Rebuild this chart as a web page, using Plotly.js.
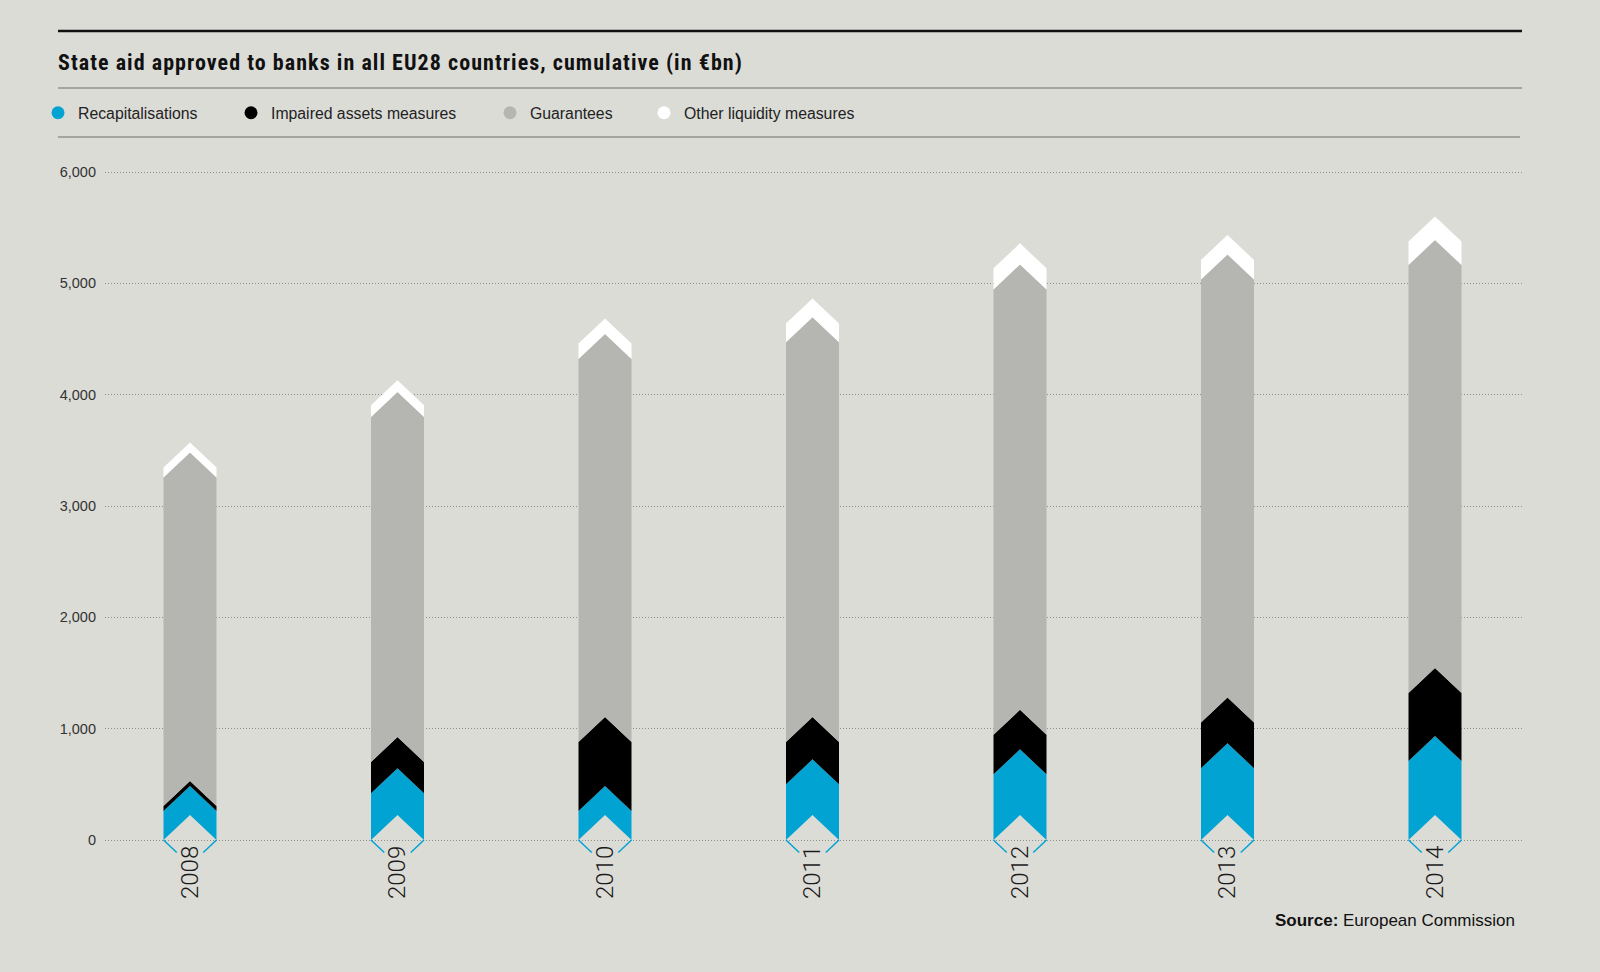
<!DOCTYPE html>
<html>
<head>
<meta charset="utf-8">
<script src="https://cdn.plot.ly/plotly-3.0.1.min.js"></script>
<style>
  html, body { margin: 0; padding: 0; background: #dcdcd7; }
  #chart { width: 1600px; height: 972px; }
  #chart .gtitle { letter-spacing: 1.05px; }
</style>
</head>
<body>
<div id="chart"></div>
<script>
// ---------- DATA (in €bn) ----------
const years = ['2008', '2009', '2010', '2011', '2012', '2013', '2014'];
const recapitalisations = [260, 420, 260, 500, 590, 645, 710];
const impairedAssets    = [45, 280, 620, 380, 355, 410, 610];
const guarantees        = [2950, 3100, 3440, 3590, 4000, 3980, 3845];
const otherLiquidity    = [90, 105, 140, 170, 190, 175, 210];
const seriesNames = ['Recapitalisations', 'Impaired assets measures', 'Guarantees', 'Other liquidity measures'];
const yTickValues = [0, 1000, 2000, 3000, 4000, 5000, 6000];

// ---------- STYLE / GEOMETRY ----------
const W = 1600, H = 972;
const L = 105, R = 1522, T = 160, B = 870;          // plot area in pixels
const Y0PX = 840, Y6000PX = 172;                     // pixel of value 0 and 6000
const K = (Y0PX - Y6000PX) / 6000;                   // px per unit
const FIRST_PX = 190, STEP_PX = 207.5;               // bar centre spacing
const HW = 26.5 / STEP_PX;                           // half bar width (x units)
const RISE = 25 / K;                                 // chevron rise (y units)
const colors = ['#00a3d2', '#000000', '#b5b6b1', '#ffffff'];
const BG = '#dcdcd7';
const SANS = "'Liberation Sans', Arial, sans-serif";
const NARROW = "'Liberation Sans Narrow', 'Arial Narrow', 'Roboto Condensed', 'DejaVu Sans Condensed', sans-serif";

const px2paperX = X => (X - L) / (R - L);
const px2paperY = Y => (B - Y) / (B - T);

const yRange = [-(B - Y0PX) / K, (Y0PX - T) / K];
const xRange = [-(FIRST_PX - L) / STEP_PX, (years.length - 1) + (R - (FIRST_PX + (years.length - 1) * STEP_PX)) / STEP_PX];

// ---------- TRACES ----------
const stacks = [recapitalisations, impairedAssets, guarantees, otherLiquidity];
const traces = [];

stacks.forEach((vals, s) => {
  const xs = [], ys = [];
  years.forEach((yr, i) => {
    let base = 0;
    for (let k = 0; k < s; k++) base += stacks[k][i];
    const top = base + vals[i];
    xs.push(i - HW, i, i + HW, i + HW, i, i - HW, i - HW, null);
    ys.push(base, base + RISE, base, top, top + RISE, top, base, null);
  });
  traces.push({
    type: 'scatter', x: xs, y: ys, mode: 'lines', fill: 'toself',
    fillcolor: colors[s], line: { width: 0, color: colors[s] },
    hoverinfo: 'skip', showlegend: false, name: seriesNames[s]
  });
});

// thin blue chevron outline below the baseline
const vx = [], vy = [];
years.forEach((yr, i) => {
  vx.push(i - HW, i - HW * 0.5, null, i + HW, i + HW * 0.5, null);
  vy.push(0, -RISE * 0.5, null, 0, -RISE * 0.5, null);
});
traces.push({
  type: 'scatter', x: vx, y: vy, mode: 'lines',
  line: { width: 1.5, color: colors[0] }, hoverinfo: 'skip', showlegend: false
});

// legend entries (one legend each so they can be placed like the reference)
const legendTextStart = [78, 271, 530, 684];
const legendIds = ['legend', 'legend2', 'legend3', 'legend4'];
seriesNames.forEach((n, s) => {
  traces.push({
    type: 'scatter', x: [null], y: [null], mode: 'markers', name: n,
    marker: { size: 13, color: colors[s], line: { width: 0 } },
    legend: legendIds[s], showlegend: true, hoverinfo: 'skip'
  });
});

const legendStyle = X => ({
  orientation: 'h', x: px2paperX(X - 40), xanchor: 'left',
  y: px2paperY(113), yanchor: 'middle', bgcolor: 'rgba(0,0,0,0)',
  font: { family: SANS, size: 15.8, color: '#222' }, itemclick: false, itemdoubleclick: false
});

// ---------- LAYOUT ----------
const lineShape = (y, x1, color, width) => ({
  type: 'line', xref: 'paper', yref: 'paper',
  x0: px2paperX(58), x1: px2paperX(x1), y0: px2paperY(y), y1: px2paperY(y),
  line: { color: color, width: width }
});

const layout = {
  width: W, height: H,
  paper_bgcolor: BG, plot_bgcolor: BG,
  margin: { l: L, r: W - R, t: T, b: H - B, pad: 0 },
  hovermode: false,
  title: {
    text: '<b>State aid approved to banks in all EU28 countries, cumulative (in €bn)</b>',
    font: { family: NARROW, size: 22, color: '#111' },
    xref: 'container', yref: 'container',
    x: 58 / W, xanchor: 'left', y: 1 - 62 / H, yanchor: 'middle'
  },
  xaxis: {
    range: xRange, tickvals: years.map((y, i) => i), ticktext: years,
    tickangle: -90, showgrid: false, zeroline: false, showline: false, ticks: '',
    anchor: 'free', position: px2paperY(Y0PX), ticklabelstandoff: 0,
    tickfont: { family: "Roboto, 'Liberation Sans', sans-serif", weight: 300, size: 24, color: '#1a1a1a' },
    fixedrange: true
  },
  yaxis: {
    range: yRange, tickvals: yTickValues, tickformat: ',',
    showgrid: true, gridcolor: '#8e8e8b', gridwidth: 1, griddash: '1px,2px',
    zeroline: false, showline: false, ticks: '', ticklabelstandoff: 8,
    tickfont: { family: SANS, size: 14.5, color: '#333' }, fixedrange: true
  },
  legend: legendStyle(legendTextStart[0]),
  legend2: legendStyle(legendTextStart[1]),
  legend3: legendStyle(legendTextStart[2]),
  legend4: legendStyle(legendTextStart[3]),
  shapes: [
    lineShape(31, 1522, '#111', 2.5),
    lineShape(88, 1522, '#6e6e6b', 1.2),
    lineShape(137, 1520, '#6e6e6b', 1.2)
  ],
  annotations: [{
    text: '<b>Source:</b> European Commission',
    xref: 'paper', yref: 'paper', x: px2paperX(1517), y: px2paperY(921),
    xanchor: 'right', yanchor: 'middle', showarrow: false,
    font: { family: SANS, size: 17, color: '#111' }
  }]
};

Plotly.newPlot('chart', traces, layout, { displayModeBar: false, staticPlot: true });
</script>
</body>
</html>
